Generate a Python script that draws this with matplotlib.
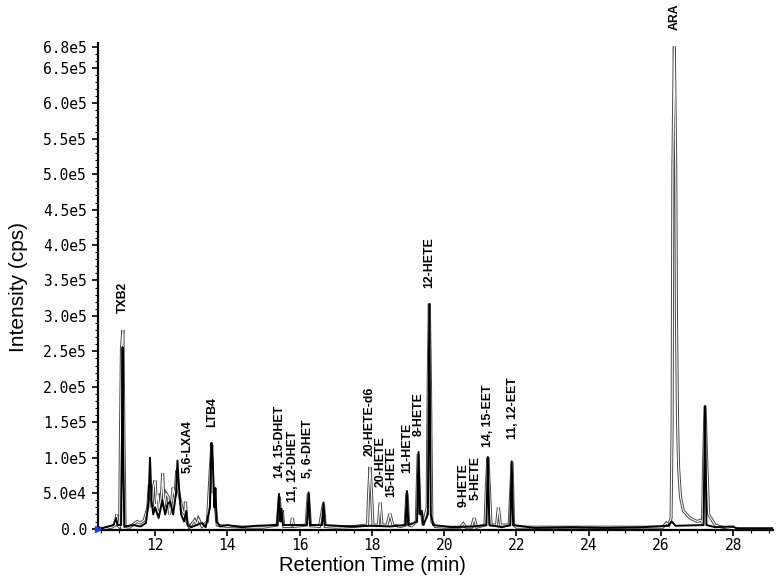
import numpy as np
import matplotlib
matplotlib.use('Agg')
import matplotlib.pyplot as plt
from matplotlib.ticker import MultipleLocator, FixedLocator

plt.rcParams['font.family'] = ['Liberation Sans', 'DejaVu Sans']

# ==================== 数据（强度单位：1e5 cps） ====================
# 灰色轨迹（白芯）
grey_t = [10.42, 10.6, 10.8, 10.9, 10.94, 10.98, 11.02, 11.04, 11.07, 11.11, 11.14, 11.17,
          11.3, 11.5, 11.6, 11.7, 11.8, 11.84, 11.88, 11.92, 11.96, 12.0, 12.04, 12.08, 12.12,
          12.18, 12.21, 12.25, 12.3, 12.36, 12.4, 12.46, 12.5, 12.55, 12.6, 12.64, 12.7, 12.76,
          12.82, 12.84, 12.88, 12.95, 13.1, 13.15, 13.2, 13.3, 13.45, 13.53, 13.57, 13.6, 13.64,
          13.68, 13.72, 14.0, 14.5, 15.0, 15.38, 15.44, 15.48, 15.52, 15.56, 15.76, 15.8, 15.84,
          16.18, 16.24, 16.3, 16.55, 16.61, 16.66, 16.71, 17.0, 17.5, 17.88, 17.91, 17.95, 17.99,
          18.03, 18.18, 18.23, 18.28, 18.42, 18.5, 18.58, 18.8, 18.92, 18.97, 19.02, 19.1, 19.23,
          19.28, 19.33, 19.37, 19.42, 19.53, 19.56, 19.59, 19.62, 19.66, 19.75, 20.0, 20.45,
          20.53, 20.6, 20.76, 20.83, 20.9, 21.13, 21.17, 21.21, 21.25, 21.3, 21.45, 21.5, 21.56,
          21.8, 21.84, 21.88, 21.92, 22.0, 23.0, 24.0, 25.0, 26.05, 26.15, 26.22, 26.28, 26.31,
          26.33, 26.37, 26.41, 26.43, 26.46, 26.49, 26.54, 26.62, 26.8, 27.0, 27.1, 27.15, 27.18,
          27.22, 27.27, 27.32, 27.5, 27.7, 28.0, 29.1]
grey_i = [0.01, 0.0, 0.02, 0.05, 0.2, 0.04, 0.02, 1.2, 2.56, 2.80, 1.2, 0.03,
          0.02, 0.1, 0.08, 0.12, 0.3, 0.62, 0.55, 0.3, 0.6, 0.68, 0.35, 0.5, 0.25,
          0.5, 0.78, 0.3, 0.5, 0.45, 0.2, 0.4, 0.58, 0.45, 0.82, 0.55, 0.4, 0.25,
          0.2, 0.38, 0.1, 0.02, 0.12, 0.05, 0.14, 0.03, 0.1, 0.85, 1.18, 0.5, 0.58,
          0.25, 0.05, 0.03, 0.02, 0.02, 0.05, 0.45, 0.1, 0.26, 0.03, 0.03, 0.15, 0.03,
          0.05, 0.5, 0.04, 0.03, 0.2, 0.35, 0.03, 0.02, 0.03, 0.05, 0.5, 0.87, 0.5,
          0.05, 0.05, 0.37, 0.05, 0.05, 0.21, 0.05, 0.03, 0.05, 0.5, 0.05, 0.04, 0.1,
          1.05, 0.2, 0.25, 0.05, 0.3, 2.1, 3.17, 2.1, 0.1, 0.03, 0.02, 0.02,
          0.07, 0.02, 0.02, 0.15, 0.02, 0.05, 0.6, 1.0, 0.6, 0.05, 0.05, 0.3, 0.05,
          0.05, 0.5, 0.94, 0.05, 0.02, 0.02, 0.02, 0.02, 0.02, 0.08, 0.05, 0.15, 1.47,
          5.06, 6.80, 5.06, 2.96, 1.47, 0.85, 0.45, 0.25, 0.15, 0.1, 0.12, 0.08, 0.9,
          1.73, 0.9, 0.2, 0.05, 0.02, 0.0, 0.0]

# 黑色轨迹
black_t = [10.42, 10.5, 10.7, 10.85, 10.92, 10.96, 11.06, 11.08, 11.10, 11.12, 11.15, 11.4,
           11.6, 11.75, 11.82, 11.86, 11.9, 11.95, 12.0, 12.1, 12.2, 12.28, 12.35, 12.42, 12.5,
           12.58, 12.62, 12.66, 12.72, 12.8, 12.86, 12.9, 13.0, 13.3, 13.4, 13.52, 13.56, 13.6,
           13.64, 13.67, 13.7, 13.8, 14.0, 14.4, 14.8, 15.38, 15.43, 15.47, 15.5, 15.54, 16.2,
           16.25, 16.29, 16.62, 16.66, 16.70, 17.4, 18.0, 18.5, 18.93, 18.97, 19.01, 19.25,
           19.29, 19.33, 19.38, 19.42, 19.55, 19.59, 19.63, 19.7, 20.2, 20.8, 21.17, 21.21,
           21.25, 21.6, 21.83, 21.87, 21.91, 22.5, 23.5, 24.5, 25.5, 26.2, 26.3, 26.4, 27.18,
           27.22, 27.26, 27.5, 28.0, 28.1, 29.1]
black_i = [0.02, 0.0, 0.03, 0.05, 0.15, 0.05, 0.05, 1.0, 2.56, 1.0, 0.03, 0.05,
           0.03, 0.08, 0.4, 1.0, 0.4, 0.2, 0.3, 0.15, 0.4, 0.2, 0.35, 0.38, 0.2,
           0.5, 0.96, 0.6, 0.2, 0.1, 0.25, 0.05, 0.02, 0.08, 0.02, 0.3, 1.21, 0.9,
           0.3, 0.57, 0.1, 0.03, 0.05, 0.02, 0.04, 0.05, 0.49, 0.1, 0.28, 0.05, 0.05,
           0.51, 0.05, 0.05, 0.37, 0.05, 0.03, 0.04, 0.03, 0.05, 0.53, 0.05, 0.1,
           1.08, 0.2, 0.25, 0.05, 0.2, 3.17, 0.2, 0.05, 0.02, 0.03, 0.05, 1.01,
           0.05, 0.02, 0.05, 0.95, 0.05, 0.01, 0.02, 0.01, 0.02, 0.04, 0.1, 0.04, 0.05,
           1.73, 0.05, 0.02, 0.03, 0.0, 0.0]

# 峰标注：名称、保留时间、标签底部强度
peak_names = ['TXB2', '5,6-LXA4', 'LTB4', '14, 15-DHET', '11, 12-DHET', '5, 6-DHET',
              '20-HETE-d6', '20-HETE', '15-HETE', '11-HETE', '8-HETE', '12-HETE',
              '9-HETE', '5-HETE', '14, 15-EET', '11, 12-EET', 'ARA']
peak_t = [11.11, 12.89, 13.58, 15.46, 15.83, 16.22, 17.95, 18.25, 18.55, 18.97, 19.29,
          19.59, 20.53, 20.86, 21.21, 21.90, 26.37]
label_i = [3.04, 0.78, 1.43, 0.71, 0.37, 0.72, 1.03, 0.58, 0.44, 0.78, 1.31, 3.40,
           0.30, 0.40, 1.15, 1.27, 7.04]

ytick_vals = [0, 0.5, 1.0, 1.5, 2.0, 2.5, 3.0, 3.5, 4.0, 4.5, 5.0, 5.5, 6.0, 6.5, 6.8]
ytick_labels = ['0.0', '5.0e4', '1.0e5', '1.5e5', '2.0e5', '2.5e5', '3.0e5', '3.5e5',
                '4.0e5', '4.5e5', '5.0e5', '5.5e5', '6.0e5', '6.5e5', '6.8e5']
xtick_vals = [12, 14, 16, 18, 20, 22, 24, 26, 28]

SCALE = 1e5

# ==================== 绘图 ====================
fig = plt.figure(figsize=(7.77, 5.78), dpi=100)
ax = fig.add_axes([0.1261, 0.083, 0.8687, 0.8426])

gt = np.array(grey_t)
gi = np.array(grey_i) * SCALE
ax.plot(gt, gi, color='#4a4a4a', lw=2.2, solid_joinstyle='miter', zorder=2)
ax.plot(gt, gi, color='white', lw=0.8, zorder=3)
ax.plot(black_t, np.array(black_i) * SCALE, color='black', lw=1.4, zorder=4)

for name, t, yi in zip(peak_names, peak_t, label_i):
    ax.text(t, yi * SCALE, name, rotation=90, ha='center', va='bottom',
            fontsize=8.8, fontweight='bold', clip_on=False)

ax.plot([10.42], [0], marker='>', color='#1f3fd0', markersize=5, clip_on=False, zorder=6)

ax.set_xlim(10.42, 29.1)
ax.set_ylim(-2000, 6.85e5)

for s in ['top', 'right']:
    ax.spines[s].set_visible(False)
for s in ['left', 'bottom']:
    ax.spines[s].set_linewidth(1.6)

ax.yaxis.set_major_locator(FixedLocator([v * SCALE for v in ytick_vals]))
ax.set_yticklabels(ytick_labels)
ax.yaxis.set_minor_locator(MultipleLocator(1e4))
ax.xaxis.set_major_locator(FixedLocator(xtick_vals))
ax.xaxis.set_minor_locator(MultipleLocator(0.5))

ax.tick_params(which='major', direction='out', length=4, width=1.2, labelsize=10.5, pad=4)
ax.tick_params(axis='x', which='major', pad=1.5)
ax.tick_params(which='minor', direction='out', length=2, width=0.8)
for lab in ax.get_xticklabels() + ax.get_yticklabels():
    lab.set_family('DejaVu Sans Mono')

ax.set_ylabel('Intensity (cps)', fontsize=15)
ax.set_xlabel('Retention Time (min)', fontsize=14.5)
ax.yaxis.set_label_coords(-0.104, 0.5)
ax.xaxis.set_label_coords(0.407, -0.053)

plt.savefig('out.png', dpi=100)
plt.close()
